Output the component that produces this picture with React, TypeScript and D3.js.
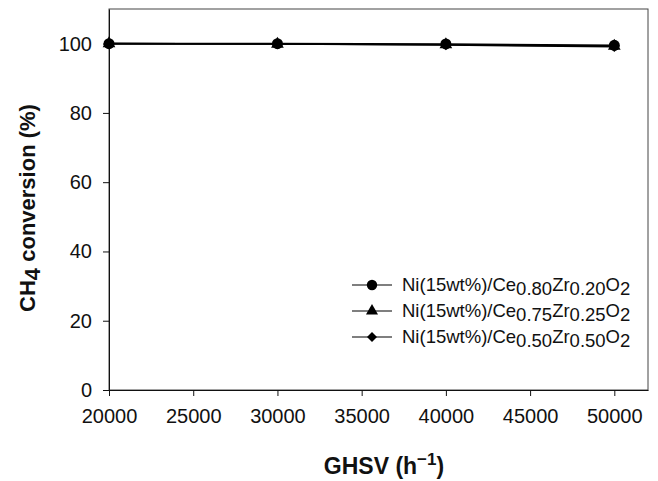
import React, { useEffect, useRef } from "react";
import * as d3 from "d3";

const ghsv = [20000, 30000, 40000, 50000];
const seriesNames = ["0.80|0.20", "0.75|0.25", "0.50|0.50"];
const s1 = [100, 100, 99.9, 99.5];
const s2 = [100, 99.9, 99.7, 99.3];
const s3 = [100, 99.9, 99.6, 99.1];
const xTicks = [20000, 25000, 30000, 35000, 40000, 45000, 50000];
const yTicks = [0, 20, 40, 60, 80, 100];

export default function App() {
  const ref = useRef<SVGSVGElement>(null);
  useEffect(() => {
    const svg = d3.select(ref.current);
    svg.selectAll("*").remove();
    const L = 109, R = 648, T = 9, B = 390;
    const x = d3.scaleLinear().domain([20000, 52000]).range([L, R]);
    const y = d3.scaleLinear().domain([0, 110]).range([B, T]);
    const font = "Liberation Sans, Arial, sans-serif";

    svg.append("rect").attr("x", L).attr("y", T).attr("width", R - L).attr("height", B - T)
      .attr("fill", "none").attr("stroke", "#444").attr("stroke-width", 1);

    const xa = svg.append("g").attr("transform", `translate(0,${B})`)
      .call(d3.axisBottom(x).tickValues(xTicks).tickSize(6).tickSizeOuter(0).tickPadding(13).tickFormat(d3.format("d")));
    xa.select(".domain").attr("stroke", "#111");
    xa.selectAll("line").attr("stroke", "#111");
    xa.selectAll("text").attr("font-family", font).attr("font-size", 20).attr("fill", "#111");

    const ya = svg.append("g").attr("transform", `translate(${L},0)`)
      .call(d3.axisLeft(y).tickValues(yTicks).tickSize(6).tickSizeOuter(0).tickPadding(11));
    ya.select(".domain").attr("stroke", "#111");
    ya.selectAll("line").attr("stroke", "#111");
    ya.selectAll("text").attr("font-family", font).attr("font-size", 20).attr("fill", "#111");

    const all = [s1, s2, s3];
    const symTypes = [d3.symbolCircle, d3.symbolTriangle, d3.symbolSquare];
    const symSizes = [95, 70, 55];
    const rot = [0, 0, 45];
    const line = d3.line<number>().x((_, i) => x(ghsv[i])).y((d) => y(d));
    all.forEach((s, k) => {
      svg.append("path").attr("d", line(s)).attr("fill", "none").attr("stroke", "#000").attr("stroke-width", 1.6);
      s.forEach((v, i) => {
        svg.append("path").attr("d", d3.symbol(symTypes[k], symSizes[k])())
          .attr("transform", `translate(${x(ghsv[i])},${y(v)}) rotate(${rot[k]})`).attr("fill", "#000");
      });
    });

    const legY = [285, 311, 337];
    seriesNames.forEach((nm, k) => {
      const [a, b] = nm.split("|");
      const g = svg.append("g");
      g.append("line").attr("x1", 352).attr("x2", 392).attr("y1", legY[k]).attr("y2", legY[k])
        .attr("stroke", "#000").attr("stroke-width", 1.2);
      g.append("path").attr("d", d3.symbol(symTypes[k], symSizes[k] * 0.9)())
        .attr("transform", `translate(372,${legY[k]}) rotate(${rot[k]})`).attr("fill", "#000");
      const t = g.append("text").attr("x", 402).attr("y", legY[k] + 6).attr("font-family", font)
        .attr("font-size", 18.5).attr("fill", "#111");
      t.append("tspan").text("Ni(15wt%)/Ce");
      t.append("tspan").attr("dy", 4).text(a);
      t.append("tspan").attr("dy", -4).text("Zr");
      t.append("tspan").attr("dy", 4).text(b);
      t.append("tspan").attr("dy", -4).text("O");
      t.append("tspan").attr("dy", 4).text("2");
    });

    const yl = svg.append("text").attr("transform", `translate(35,208) rotate(-90)`)
      .attr("text-anchor", "middle").attr("font-family", font).attr("font-size", 22)
      .attr("font-weight", "bold").attr("fill", "#111");
    yl.append("tspan").text("CH");
    yl.append("tspan").attr("dy", 5).text("4");
    yl.append("tspan").attr("dy", -5).text(" conversion (%)");

    const xl = svg.append("text").attr("x", 384).attr("y", 474)
      .attr("text-anchor", "middle").attr("font-family", font).attr("font-size", 23)
      .attr("font-weight", "bold").attr("fill", "#111");
    xl.append("tspan").text("GHSV (h");
    xl.append("tspan").attr("dy", -9).attr("font-size", 17).text("\u22121");
    xl.append("tspan").attr("dy", 9).text(")");
  }, []);
  return (
    <svg ref={ref} width={658} height={481}
      style={{ position: "absolute", left: 0, top: 0, background: "#fff" }} />
  );
}
